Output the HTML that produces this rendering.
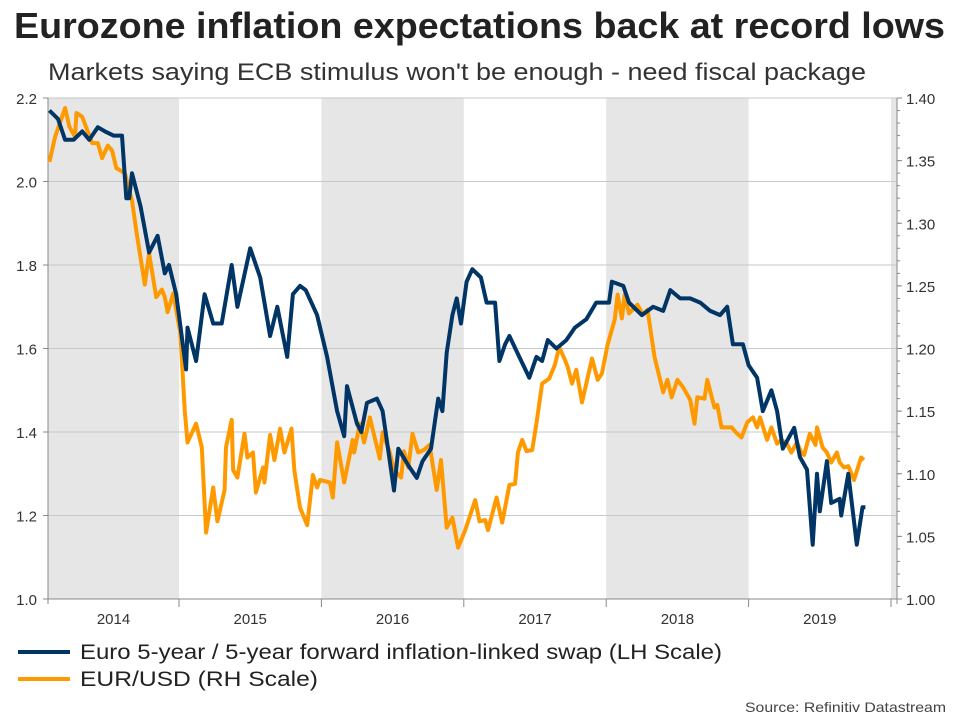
<!DOCTYPE html>
<html><head><meta charset="utf-8"><style>
body{margin:0;background:#fff;width:960px;height:720px;overflow:hidden;font-family:"Liberation Sans",sans-serif}
svg text{font-family:"Liberation Sans",sans-serif}
</style></head><body>
<svg id="c" width="960" height="720">
<text x="14" y="38" font-size="36" font-weight="bold" fill="#222" textLength="931" lengthAdjust="spacingAndGlyphs">Eurozone inflation expectations back at record lows</text>
<text x="48" y="80" font-size="24" fill="#333" textLength="818" lengthAdjust="spacingAndGlyphs">Markets saying ECB stimulus won't be enough - need fiscal package</text>
<g id="plot"></g>
<g>
<line x1="18" y1="652" x2="70" y2="652" stroke="#003566" stroke-width="4"/>
<text x="80" y="659" font-size="21" fill="#222" textLength="642" lengthAdjust="spacingAndGlyphs">Euro 5-year / 5-year forward inflation-linked swap (LH Scale)</text>
<line x1="18" y1="679" x2="70" y2="679" stroke="#FF9900" stroke-width="4"/>
<text x="80" y="686" font-size="21" fill="#222" textLength="238" lengthAdjust="spacingAndGlyphs">EUR/USD  (RH Scale)</text>
</g>
<text x="946" y="712" text-anchor="end" font-size="14" fill="#444" textLength="201" lengthAdjust="spacingAndGlyphs">Source: Refinitiv Datastream</text>
</svg>
<script>
const years=["2014","2015","2016","2017","2018","2019"];
const leftTicks=[1.0,1.2,1.4,1.6,1.8,2.0,2.2];
const rightTicks=["1.00","1.05","1.10","1.15","1.20","1.25","1.30","1.35","1.40"];
const swapDates=[2014.09,2014.15,2014.20,2014.26,2014.32,2014.37,2014.43,2014.48,2014.54,2014.60,2014.63,2014.65,2014.67,2014.73,2014.79,2014.85,2014.90,2014.93,2014.98,2015.05,2015.06,2015.12,2015.18,2015.24,2015.30,2015.37,2015.41,2015.50,2015.57,2015.64,2015.69,2015.76,2015.80,2015.85,2015.89,2015.97,2016.04,2016.11,2016.16,2016.18,2016.25,2016.28,2016.32,2016.39,2016.43,2016.48,2016.51,2016.54,2016.61,2016.67,2016.71,2016.77,2016.82,2016.85,2016.88,2016.92,2016.95,2016.98,2017.02,2017.06,2017.12,2017.16,2017.22,2017.25,2017.29,2017.32,2017.39,2017.46,2017.51,2017.55,2017.59,2017.65,2017.72,2017.78,2017.86,2017.93,2017.98,2018.02,2018.04,2018.12,2018.16,2018.25,2018.33,2018.40,2018.45,2018.52,2018.59,2018.66,2018.73,2018.80,2018.85,2018.89,2018.96,2019.00,2019.06,2019.10,2019.16,2019.20,2019.24,2019.32,2019.36,2019.41,2019.45,2019.48,2019.50,2019.55,2019.58,2019.64,2019.65,2019.70,2019.76,2019.80,2019.82];
const swapValues=[2.17,2.15,2.10,2.10,2.12,2.10,2.13,2.12,2.11,2.11,1.96,1.96,2.02,1.94,1.83,1.87,1.78,1.80,1.73,1.55,1.65,1.57,1.73,1.66,1.66,1.80,1.70,1.84,1.77,1.63,1.70,1.58,1.73,1.75,1.74,1.68,1.58,1.45,1.39,1.51,1.42,1.40,1.47,1.48,1.45,1.33,1.26,1.36,1.32,1.29,1.33,1.36,1.48,1.45,1.59,1.68,1.72,1.66,1.76,1.79,1.77,1.71,1.71,1.57,1.61,1.63,1.58,1.53,1.58,1.57,1.62,1.60,1.62,1.65,1.67,1.71,1.71,1.71,1.76,1.75,1.71,1.68,1.70,1.69,1.74,1.72,1.72,1.71,1.69,1.68,1.70,1.61,1.61,1.56,1.53,1.45,1.50,1.45,1.36,1.41,1.34,1.31,1.13,1.30,1.21,1.33,1.23,1.24,1.20,1.30,1.13,1.22,1.22];
const fxDates=[2014.09,2014.13,2014.20,2014.23,2014.27,2014.28,2014.32,2014.39,2014.43,2014.46,2014.50,2014.53,2014.56,2014.62,2014.67,2014.70,2014.76,2014.79,2014.84,2014.88,2014.90,2014.92,2014.96,2015.01,2015.04,2015.06,2015.12,2015.16,2015.19,2015.24,2015.27,2015.32,2015.33,2015.37,2015.38,2015.41,2015.46,2015.48,2015.52,2015.54,2015.59,2015.60,2015.64,2015.67,2015.71,2015.74,2015.79,2015.81,2015.85,2015.90,2015.94,2015.97,2015.99,2016.06,2016.08,2016.11,2016.16,2016.22,2016.23,2016.27,2016.30,2016.34,2016.41,2016.43,2016.48,2016.51,2016.56,2016.58,2016.61,2016.64,2016.68,2016.72,2016.76,2016.81,2016.84,2016.88,2016.92,2016.96,2017.01,2017.08,2017.11,2017.15,2017.17,2017.23,2017.27,2017.32,2017.36,2017.38,2017.41,2017.44,2017.48,2017.51,2017.55,2017.60,2017.64,2017.67,2017.71,2017.73,2017.76,2017.79,2017.83,2017.90,2017.94,2017.97,2018.01,2018.06,2018.08,2018.11,2018.13,2018.16,2018.22,2018.26,2018.29,2018.34,2018.40,2018.43,2018.46,2018.50,2018.54,2018.59,2018.62,2018.64,2018.69,2018.71,2018.76,2018.78,2018.81,2018.88,2018.92,2018.95,2018.99,2019.03,2019.06,2019.08,2019.13,2019.16,2019.20,2019.23,2019.27,2019.30,2019.34,2019.37,2019.39,2019.43,2019.47,2019.48,2019.52,2019.55,2019.58,2019.62,2019.64,2019.67,2019.70,2019.74,2019.79,2019.81];
const fxValues=[1.349,1.369,1.392,1.377,1.369,1.388,1.385,1.364,1.364,1.352,1.362,1.358,1.344,1.340,1.318,1.294,1.251,1.276,1.241,1.247,1.241,1.229,1.244,1.212,1.151,1.125,1.140,1.121,1.053,1.089,1.062,1.087,1.121,1.143,1.103,1.097,1.132,1.113,1.117,1.085,1.105,1.093,1.131,1.111,1.136,1.117,1.136,1.103,1.073,1.059,1.099,1.089,1.095,1.093,1.081,1.125,1.093,1.127,1.117,1.140,1.125,1.145,1.112,1.133,1.117,1.103,1.097,1.118,1.105,1.132,1.117,1.119,1.123,1.087,1.111,1.057,1.065,1.041,1.055,1.079,1.062,1.063,1.055,1.081,1.061,1.091,1.092,1.117,1.127,1.118,1.119,1.140,1.172,1.176,1.187,1.201,1.191,1.185,1.172,1.183,1.157,1.192,1.175,1.180,1.203,1.223,1.243,1.224,1.243,1.228,1.235,1.227,1.231,1.193,1.165,1.175,1.161,1.175,1.169,1.159,1.140,1.161,1.160,1.175,1.153,1.155,1.137,1.137,1.132,1.129,1.141,1.145,1.137,1.145,1.127,1.137,1.124,1.127,1.124,1.117,1.125,1.117,1.115,1.132,1.123,1.137,1.121,1.117,1.109,1.117,1.109,1.105,1.106,1.095,1.113,1.111];

const NS='http://www.w3.org/2000/svg';
const plot=document.getElementById('plot');
const L=48,R=897,T=98,B=599;
const xS=t=>179+(t-2015)*142.4;
const yL=v=>B-(v-1.0)/(2.2-1.0)*(B-T);
const yR=v=>B-(v-1.0)/(1.4-1.0)*(B-T);
function mk(tag,attrs){const e=document.createElementNS(NS,tag);for(const k in attrs)e.setAttribute(k,attrs[k]);plot.appendChild(e);return e;}
[2014,2016,2018,2020].forEach(y=>{
  const x0=Math.max(L,xS(y)),x1=Math.min(R,xS(y+1));
  const r=mk('rect',{x:x0,y:T,width:x1-x0,height:B-T,fill:'#e6e6e6'});
  
  
});
leftTicks.forEach(v=>{
  const y=yL(v);
  if(v>1.0){const g=mk('line',{x1:L,x2:R,y1:y,y2:y,stroke:'#c4c8c8','stroke-width':1});
  
  }
  mk('line',{x1:L-5,x2:L,y1:y,y2:y,stroke:'#888'});
  const t=mk('text',{x:37,y:y+6,'text-anchor':'end','font-size':15,fill:'#333'});t.textContent=v.toFixed(1);
  
  
});
rightTicks.forEach(s=>{
  const y=yR(parseFloat(s));
  mk('line',{x1:R,x2:R+5,y1:y,y2:y,stroke:'#888'});
  const t=mk('text',{x:906,y:y+6,'font-size':15,fill:'#333'});t.textContent=s;
  
  
});
for(let v=1.0;v<=1.4001;v+=0.01){const y=yR(v);mk('line',{x1:R,x2:R+3,y1:y,y2:y,stroke:'#888'});}
mk('line',{x1:L,x2:L,y1:T,y2:B+5,stroke:'#888'});
mk('line',{x1:R,x2:R,y1:T,y2:B+5,stroke:'#888'});
mk('line',{x1:L,x2:R,y1:B,y2:B,stroke:'#888'});
years.forEach((yr,i)=>{
  const y0=+yr;const x1=xS(y0+1);
  mk('line',{x1:x1,x2:x1,y1:B,y2:B+8,stroke:'#888'});
  const xc=(Math.max(L,xS(y0))+x1)/2;
  const t=mk('text',{x:xc,y:B+25,'text-anchor':'middle','font-size':15,fill:'#333'});t.textContent=yr;
  
  
});
function line(dates,vals,ys,color,name){
  const d=dates.map((t,i)=>(i?'L':'M')+xS(t).toFixed(1)+','+ys(vals[i]).toFixed(1)).join('');
  const p=mk('path',{d:d,fill:'none',stroke:color,'stroke-width':4,'stroke-linejoin':'round'});
  
  
}
line(fxDates,fxValues,yR,'#FF9900','eurusd-line');
line(swapDates,swapValues,yL,'#003566','swap-line');
</script>
</body></html>
